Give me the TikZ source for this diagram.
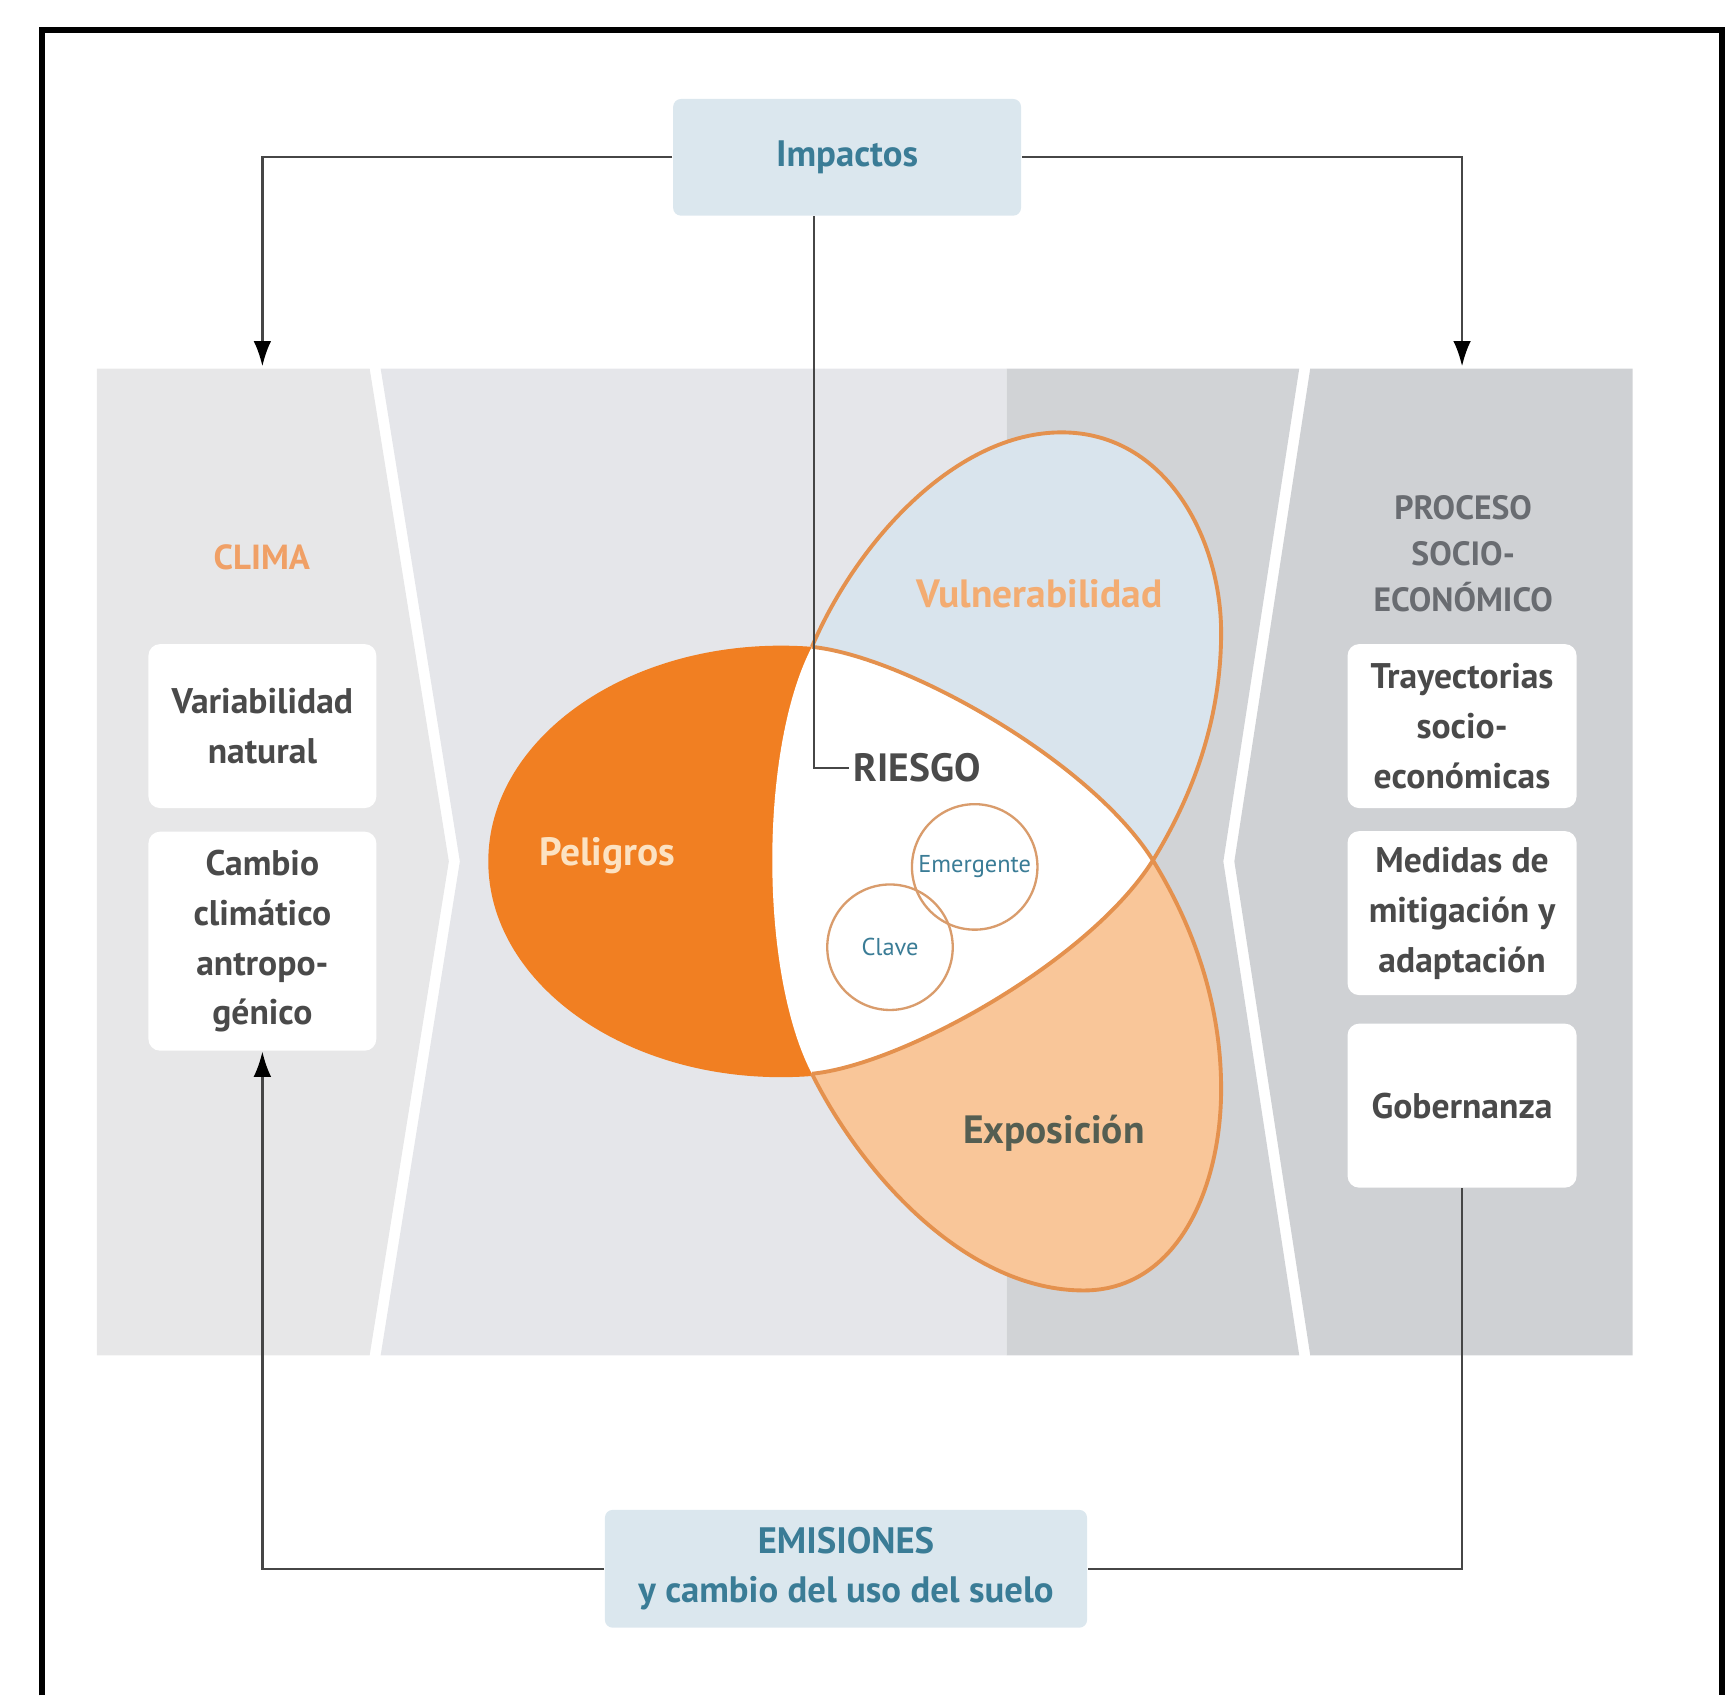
\documentclass[tikz,border=0pt]{standalone}
\usepackage{fontspec}
\setmainfont{PT Sans}
\usepackage{tikz}
\definecolor{boxBlue}{RGB}{219, 231, 238}
\definecolor{tealText}{RGB}{58, 124, 150}
\definecolor{linkGray}{RGB}{70, 70, 70}
\definecolor{panelLeft}{RGB}{231, 231, 232}
\definecolor{panelMid}{RGB}{229, 230, 234}
\definecolor{panelDark}{RGB}{209, 211, 214}
\definecolor{panelRight}{RGB}{207, 209, 212}
\definecolor{hazardOrange}{RGB}{241, 127, 34}
\definecolor{vulnBlue}{RGB}{217, 228, 237}
\definecolor{exposPeach}{RGB}{249, 198, 153}
\definecolor{rimOrange}{RGB}{228, 145, 78}
\definecolor{ringOrange}{RGB}{217, 156, 108}
\definecolor{labelGray}{RGB}{74, 74, 74}
\definecolor{procesoGray}{RGB}{105, 108, 113}
\definecolor{climaOrange}{RGB}{240, 160, 102}
\definecolor{vulnText}{RGB}{243, 172, 114}
\definecolor{hazardText}{RGB}{252, 226, 194}
\definecolor{exposText}{RGB}{84, 94, 82}
\usetikzlibrary{arrows.meta, positioning, calc}

\begin{document}
\begin{tikzpicture}[
    x=0.01cm, y=-0.01cm,
    link/.style={draw=linkGray, line width=0.6pt},
    arrowTip/.style={-{Latex[length=2.3mm, width=1.6mm, color=black]}},
    blueBox/.style={rectangle, rounded corners=2pt, fill=boxBlue, text=tealText,
        align=center, inner sep=0pt, font=\fontsize{9.5}{12.5}\selectfont\bfseries},
    whiteBox/.style={rectangle, rounded corners=3pt, fill=white, text=labelGray,
        align=center, inner sep=0pt, minimum width=2.07cm, minimum height=1.49cm,
        font=\fontsize{9.2}{12.9}\selectfont\bfseries},
    rim/.style={draw=rimOrange, line width=1pt},
    ring/.style={circle, draw=ringOrange, line width=0.6pt, minimum size=1.14cm,
        inner sep=0pt, text=tealText, font=\fontsize{6.3}{7}\selectfont},
    lobeLabel/.style={font=\fontsize{10.2}{12}\selectfont\bfseries}
]
    \useasboundingbox (0,0) rectangle (1568,1541);

    % frame
    \draw[line width=1.6pt] (38,1541) -- (38,27) -- (1565,27) -- (1565,1541);

    % grey band
    \fill[panelLeft] (88,335) -- (336,335) -- (408,783) -- (336,1232) -- (88,1232) -- cycle;
    \fill[panelMid] (346,335) -- (915,335) -- (915,1232) -- (346,1232) -- (418,783) -- cycle;
    \fill[panelDark] (915,335) -- (1181,335) -- (1112,783) -- (1181,1232) -- (915,1232) -- cycle;
    \fill[panelRight] (1191,335) -- (1484,335) -- (1484,1232) -- (1191,1232) -- (1122,783) -- cycle;

    % lobes
    \fill[hazardOrange] (710,783) ellipse [x radius=2.66cm, y radius=1.96cm];
    \fill[vulnBlue] (738,588) .. controls (780,490) and (870,393) .. (965,393)
        .. controls (1060,393) and (1110,490) .. (1110,575)
        .. controls (1110,660) and (1080,730) .. (1048,782)
        .. controls (990,690) and (820,596) .. (738,588) -- cycle;
    \fill[exposPeach] (1048,782) .. controls (1080,834) and (1110,905) .. (1110,990)
        .. controls (1110,1080) and (1070,1173) .. (985,1173)
        .. controls (880,1173) and (785,1070) .. (738,976)
        .. controls (820,968) and (990,874) .. (1048,782) -- cycle;
    \fill[white] (738,588) .. controls (820,596) and (990,690) .. (1048,782)
        .. controls (990,874) and (820,968) .. (738,976)
        .. controls (690,884) and (690,680) .. (738,588) -- cycle;
    \draw[rim] (738,588) .. controls (780,490) and (870,393) .. (965,393)
        .. controls (1060,393) and (1110,490) .. (1110,575)
        .. controls (1110,660) and (1080,730) .. (1048,782);
    \draw[rim] (1048,782) .. controls (1080,834) and (1110,905) .. (1110,990)
        .. controls (1110,1080) and (1070,1173) .. (985,1173)
        .. controls (880,1173) and (785,1070) .. (738,976);
    \draw[rim] (738,588) .. controls (820,596) and (990,690) .. (1048,782);
    \draw[rim] (1048,782) .. controls (990,874) and (820,968) .. (738,976);

    \node[ring] (emergente) at (886,788) {Emergente};
    \node[ring] (clave) at (809,861) {Clave};

    \node[lobeLabel, text=vulnText] (vulnerabilidad) at (945,540) {Vulnerabilidad};
    \node[lobeLabel, text=hazardText] (peligros) at (552,778) {Peligros};
    \node[lobeLabel, text=exposText] (exposicion) at (958,1030) {Exposición};
    \node[lobeLabel, text=labelGray, anchor=west, inner sep=1pt] (riesgo) at (772,698) {RIESGO};

    % boxes
    \node[blueBox, minimum width=3.16cm, minimum height=1.06cm] (impactos) at (770,143) {Impactos};
    \node[blueBox, minimum width=4.38cm, minimum height=1.07cm] (emisiones) at (769,1426)
        {EMISIONES\\y cambio del uso del suelo};

    \node[text=climaOrange, font=\fontsize{9}{11}\selectfont\bfseries] (clima) at (238,507) {CLIMA};
    \node[whiteBox] (variabilidad) at (238.5,660) {Variabilidad\\natural};
    \node[whiteBox, minimum height=1.99cm] (cambio) at (238.5,855.5)
        {Cambio\\climático\\antropo-\\génico};

    \node[text=procesoGray, align=center, font=\fontsize{8.7}{11.9}\selectfont\bfseries] (proceso)
        at (1330,503) {PROCESO\\SOCIO-\\ECONÓMICO};
    \node[whiteBox, minimum width=2.08cm] (trayectorias) at (1329,660) {Trayectorias\\socio-\\económicas};
    \node[whiteBox, minimum width=2.08cm] (medidas) at (1329,830) {Medidas de\\mitigación y\\adaptación};
    \node[whiteBox, minimum width=2.08cm] (gobernanza) at (1329,1005) {Gobernanza};

    % connectors
    \coordinate (climaIn) at (238.5,333);
    \coordinate (socioIn) at (1329,333);
    \coordinate (riskBend) at (740,698);
    \draw[link, arrowTip] (impactos.west) -| (climaIn);
    \draw[link, arrowTip] (impactos.east) -| (socioIn);
    \draw[link] (impactos.south -| riskBend) -- (riskBend) -- (riesgo.west);
    \draw[link] (gobernanza.south) |- (emisiones.east);
    \draw[link, arrowTip] (emisiones.west) -| (cambio.south);
\end{tikzpicture}
\end{document}
